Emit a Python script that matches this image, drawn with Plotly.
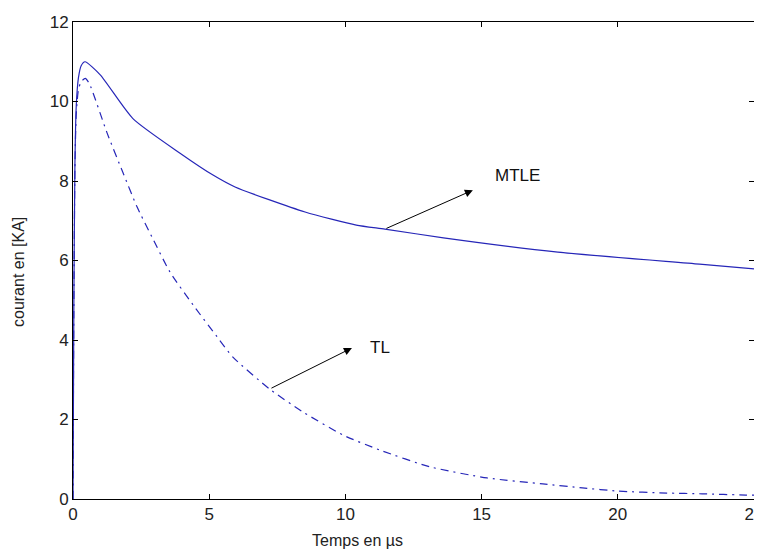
import plotly.graph_objects as go

# Data
mtle_t = [0, 0.03, 0.07, 0.12, 0.2, 0.3, 0.44, 1.0, 2.2, 3.93, 5.14, 5.95, 8.52, 10.4, 11.45, 13.6, 17.8, 23.0, 25.0]
mtle_i = [0, 4.7, 8.4, 9.9, 10.6, 10.9, 11.0, 10.67, 9.57, 8.70, 8.15, 7.85, 7.22, 6.89, 6.79, 6.57, 6.21, 5.91, 5.79]

tl_t = [0, 0.03, 0.07, 0.12, 0.2, 0.3, 0.45, 0.6, 1.25, 1.84, 2.35, 2.9, 3.56, 4.41, 5.29, 5.87, 7.23,
        8.44, 9.91, 11.27, 13.1, 15.2, 17.25, 18.7, 20.0, 21.8, 23.1, 24.7, 25.0]
tl_i = [0, 4.7, 8.3, 9.7, 10.3, 10.5, 10.58, 10.45, 9.21, 8.2, 7.35, 6.59, 5.71, 4.88, 4.08, 3.57, 2.76,
        2.19, 1.61, 1.23, 0.81, 0.53, 0.38, 0.28, 0.2, 0.15, 0.13, 0.1, 0.1]

x_ticks = [0, 5, 10, 15, 20, 25]
y_ticks = [0, 2, 4, 6, 8, 10, 12]

line_color = "#2626b8"
font_family = "Liberation Sans, Arial, sans-serif"

# page body adds an 8px margin: size the figure so the plot lands where the reference has it
OFF = 8
W, H = 770, 551
PLOT_L, PLOT_R, PLOT_T, PLOT_B = 73, 754, 22, 499   # window pixels of the plot area
L = PLOT_L - OFF
R = W - (PLOT_R - OFF)
T = PLOT_T - OFF
B = H - (PLOT_B - OFF)
pw, ph = W - L - R, H - T - B

fig = go.Figure()
fig.add_trace(go.Scatter(x=mtle_t, y=mtle_i, mode="lines", name="MTLE",
                         line=dict(color=line_color, width=1.2, shape="spline", smoothing=0.6)))
fig.add_trace(go.Scatter(x=tl_t, y=tl_i, mode="lines", name="TL",
                         line=dict(color=line_color, width=1.2, dash="8px,5px,2px,5px",
                                   shape="spline", smoothing=0.6)))

# arrows
fig.add_annotation(x=14.68, y=7.77, ax=11.45, ay=6.79, xref="x", yref="y", axref="x", ayref="y",
                   text="", showarrow=True, arrowhead=2, arrowsize=1.6, arrowwidth=1, arrowcolor="black")
fig.add_annotation(x=10.24, y=3.80, ax=7.23, ay=2.77, xref="x", yref="y", axref="x", ayref="y",
                   text="", showarrow=True, arrowhead=2, arrowsize=1.6, arrowwidth=1, arrowcolor="black")
fig.add_annotation(x=16.3, y=8.15, xref="x", yref="y", text="MTLE", showarrow=False,
                   font=dict(size=17, color="#111", family=font_family))
fig.add_annotation(x=11.27, y=3.82, xref="x", yref="y", text="TL", showarrow=False,
                   font=dict(size=17, color="#111", family=font_family))

# axis titles (positions given in window pixels, converted to paper coords)
def px_to_paper(px, py):
    fx, fy = px - OFF, py - OFF
    return (fx - L) / pw, 1 - (fy - T) / ph

tx, ty = px_to_paper(357, 540)
fig.add_annotation(x=tx, y=ty, xref="paper", yref="paper", text="Temps en µs", showarrow=False,
                   xanchor="center", yanchor="middle",
                   font=dict(size=16, color="#222", family=font_family))
yx, yy = px_to_paper(18, 272)
fig.add_annotation(x=yx, y=yy, xref="paper", yref="paper", text="courant en [KA]", showarrow=False,
                   xanchor="center", yanchor="middle",
                   textangle=-90, font=dict(size=16, color="#222", family=font_family))

axis_common = dict(showgrid=False, zeroline=False, showline=True, linecolor="black", linewidth=1,
                   mirror="allticks", ticks="inside", ticklen=5, tickcolor="black",
                   ticklabeloverflow="allow",
                   tickfont=dict(size=17, color="#222", family=font_family))

fig.update_xaxes(range=[0, 25], tickvals=x_ticks, ticktext=[str(v) for v in x_ticks], **axis_common)
fig.update_yaxes(range=[0, 12], tickvals=y_ticks, ticktext=[str(v) for v in y_ticks], **axis_common)

fig.update_layout(width=W, height=H, margin=dict(l=L, r=R, t=T, b=B, autoexpand=False),
                  plot_bgcolor="white", paper_bgcolor="white", showlegend=False)

fig.write_html("out.html")
